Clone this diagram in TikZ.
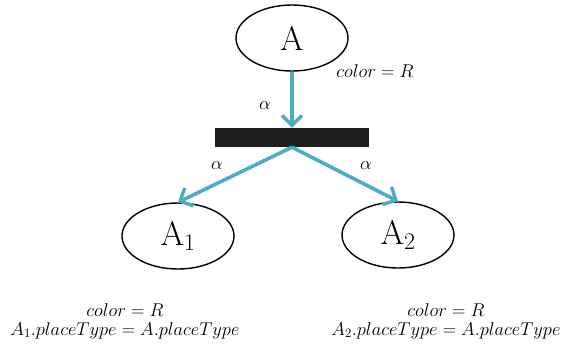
\RequirePackage{fix-cm}
\documentclass[tikz,border=0pt]{standalone}
\usepackage{amsmath}
\usepackage{amssymb}
\usepackage{tikz}
\usetikzlibrary{shapes.geometric, arrows.meta, positioning}
\definecolor{arcblue}{RGB}{75,172,198}

\begin{document}
\begin{tikzpicture}[x=1pt, y=-1pt,
    place/.style={draw, ellipse, line width=1.4pt, minimum width=112pt, minimum height=66pt, inner sep=0pt, font=\fontsize{34}{38}\selectfont},
    trans/.style={fill=black!88, minimum width=154pt, minimum height=19pt, inner sep=0pt},
    arc/.style={draw=arcblue, line width=3.6pt, -{Straight Barb[length=10pt, width=20pt, line width=3.4pt]}},
    lbl/.style={font=\fontsize{18.5}{22}\selectfont, inner sep=0pt, align=center}]
        \useasboundingbox (0,0) rectangle (561,349);

        % Places
        \node[place] (A) at (292,38) {A};
        \node[place] (A1) at (178,236) {A$_1$};
        \node[place] (A2) at (398,235) {A$_2$};

        % Transition
        \node[trans] (t) at (292,137.5) {};

        % Arcs
        \draw[arc] (A.south) -- (t.north);
        \draw[arc] (t.south) -- (A1.north);
        \draw[arc] (t.south) -- (A2.north);

        % Arc labels
        \node[lbl] (a0) at (265,106) {$\alpha$};
        \node[lbl] (a1) at (217,166) {$\alpha$};
        \node[lbl] (a2) at (366,166) {$\alpha$};

        % Guards
        \node[lbl] (g0) at (375,71) {$color = R$};
        \node[lbl] (g1) at (125,321) {$color = R$\\[-3pt] $A_1.placeType = A.placeType$};
        \node[lbl] (g2) at (446,321) {$color = R$\\[-3pt] $A_2.placeType = A.placeType$};
      \end{tikzpicture}
\end{document}
